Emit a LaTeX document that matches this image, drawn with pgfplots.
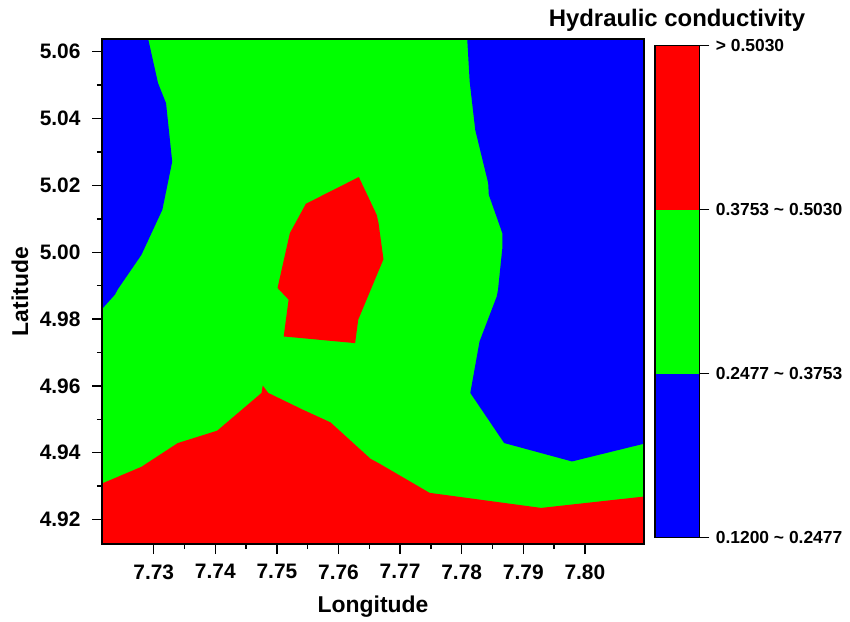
\documentclass[border=0pt]{standalone}
\usepackage{pgfplots}
\pgfplotsset{compat=1.18}
\usepackage{fontspec}
\setmainfont{Liberation Sans}

\definecolor{cblue}{RGB}{0,0,255}
\definecolor{cgreen}{RGB}{0,255,0}
\definecolor{cred}{RGB}{255,0,0}

\begin{document}
\begin{tikzpicture}
\begin{axis}[
    at={(0bp,0bp)}, anchor=south west,
    scale only axis,
    width=542bp, height=505bp,
    xmin=7.7216, xmax=7.8096,
    ymin=4.9127, ymax=5.0638,
    xtick={7.73,7.74,7.75,7.76,7.77,7.78,7.79,7.80},
    ytick={4.92,4.94,4.96,4.98,5.00,5.02,5.04,5.06},
    minor x tick num=1, minor y tick num=1,
    xtick pos=bottom, ytick pos=left,
    tick align=outside,
    major tick length=10bp, minor tick length=5bp,
    every tick/.style={black, line width=1.4bp},
    axis line style={black, line width=1.6bp},
    scaled ticks=false,
    /pgf/number format/assume math mode=true,
    /pgf/number format/.cd, fixed, fixed zerofill, precision=2,
    /pgfplots/.cd,
    tick label style={font=\fontsize{21}{25}\selectfont\bfseries},
    xticklabel style={yshift=-7bp},
    yticklabel style={xshift=-8bp},
    label style={font=\fontsize{23}{27}\selectfont\bfseries},
    xlabel={Longitude}, ylabel={Latitude},
    xlabel style={at={(axis description cs:0.5,-0.1366)}, anchor=base},
    ylabel style={at={(axis description cs:-0.1365,0.5)}, anchor=base},
    axis on top,
]
% background level (green)
\addplot[fill=cgreen, draw=none] coordinates {
    (7.7216,4.9127) (7.8096,4.9127) (7.8096,5.0638) (7.7216,5.0638)
} -- cycle;

% low zone, west
\addplot[fill=cblue, draw=none] coordinates {
    (7.7216,5.0638) (7.7291,5.0638) (7.7307,5.0506) (7.7320,5.0446)
    (7.7330,5.0271) (7.7314,5.0127) (7.7280,4.9992) (7.7242,4.9890)
    (7.7237,4.9873) (7.7216,4.9830)
} -- cycle;

% low zone, east
\addplot[fill=cblue, draw=none] coordinates {
    (7.7809,5.0638) (7.7813,5.0510) (7.7822,5.0366) (7.7843,5.0207)
    (7.7844,5.0172) (7.7866,5.0057) (7.7866,5.0012) (7.7859,4.9888)
    (7.7857,4.9868) (7.7829,4.9733) (7.7814,4.9579) (7.7869,4.9429)
    (7.7979,4.9374) (7.8096,4.9427) (7.8096,5.0638)
} -- cycle;

% high zone, centre
\addplot[fill=cred, draw=none] coordinates {
    (7.7547,5.0145) (7.7633,5.0225) (7.7662,5.0112) (7.7665,5.0087)
    (7.7673,4.9979) (7.7632,4.9798) (7.7627,4.9728) (7.7511,4.9748)
    (7.7519,4.9858) (7.7501,4.9893) (7.7521,5.0057)
} -- cycle;

% high zone, south
\addplot[fill=cred, draw=none] coordinates {
    (7.7216,4.9127) (7.7216,4.9308) (7.7280,4.9358) (7.7339,4.9429)
    (7.7403,4.9466) (7.7475,4.9579) (7.7477,4.9601) (7.7486,4.9579)
    (7.7542,4.9529) (7.7587,4.9491) (7.7652,4.9382) (7.7667,4.9367)
    (7.7748,4.9280) (7.7929,4.9235) (7.8096,4.9269) (7.8096,4.9127)
} -- cycle;
\end{axis}

% colour scale
\begin{axis}[
    at={(553bp,6.3bp)}, anchor=south west,
    scale only axis,
    width=44.3bp, height=492bp,
    xmin=0, xmax=1, ymin=0, ymax=3,
    xtick=\empty,
    ytick={0,1,2,3},
    yticklabels={0.1200 \textasciitilde{} 0.2477, 0.2477 \textasciitilde{} 0.3753,
                 0.3753 \textasciitilde{} 0.5030, > 0.5030},
    ytick pos=right, yticklabel pos=right,
    tick align=outside, major tick length=10bp,
    every tick/.style={black, line width=1bp},
    axis line style={black, line width=1.2bp},
    tick label style={font=\fontsize{17.5}{21}\selectfont\bfseries},
    yticklabel style={xshift=3bp},
    axis on top,
]
\addplot[fill=cblue, draw=none] coordinates {(0,0) (1,0) (1,1) (0,1)} -- cycle;
\addplot[fill=cgreen, draw=none] coordinates {(0,1) (1,1) (1,2) (0,2)} -- cycle;
\addplot[fill=cred, draw=none] coordinates {(0,2) (1,2) (1,3) (0,3)} -- cycle;
\end{axis}

\node[anchor=base, font=\fontsize{24}{28}\selectfont\bfseries]
    at (575bp,517.3bp) {Hydraulic conductivity};

\path (-102bp,-78bp) rectangle (748bp,544bp);
\end{tikzpicture}
\end{document}
